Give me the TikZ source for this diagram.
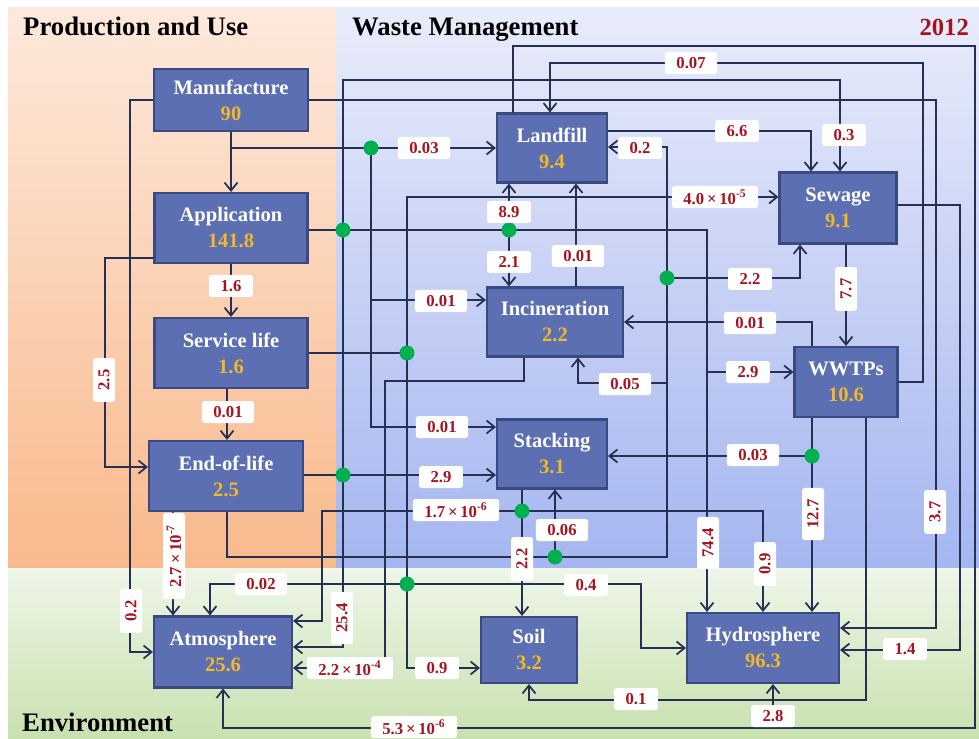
\documentclass[tikz,border=0pt]{standalone}
\usepackage{fontspec}
\setmainfont{Liberation Serif}
\usetikzlibrary{arrows.meta}
\definecolor{boxfill}{RGB}{91,111,178}
\definecolor{boxline}{RGB}{58,74,128}
\definecolor{flowcol}{RGB}{38,48,82}
\definecolor{numcol}{RGB}{242,184,40}
\definecolor{valcol}{RGB}{165,20,30}
\definecolor{dotcol}{RGB}{0,176,80}
\definecolor{prodtop}{RGB}{253,233,220}
\definecolor{prodbot}{RGB}{249,185,140}
\definecolor{wastetop}{RGB}{233,236,250}
\definecolor{wastebot}{RGB}{165,182,240}
\definecolor{envtop}{RGB}{238,246,232}
\definecolor{envbot}{RGB}{200,225,175}

\begin{document}
\begin{tikzpicture}
[x=0.2mm, y=-0.2mm,
block/.style={rectangle, draw=boxline, fill=boxfill, line width=1.2pt,
text=white, align=center, inner sep=1pt,
font=\bfseries\fontsize{11.7}{14.8}\selectfont},
flow/.style={draw=flowcol, line width=1pt,
-{Straight Barb[length=1.6mm,width=2.6mm]}},
wire/.style={draw=flowcol, line width=1pt},
val/.style={fill=white, rounded corners=1.5pt, text=valcol,
font=\bfseries\fontsize{9.5}{10}\selectfont,
inner xsep=2.3mm, inner ysep=0pt, minimum height=4.4mm},
rval/.style={val, rotate=90},
junction/.style={circle, fill=dotcol, inner sep=0pt, minimum size=3mm},
title/.style={font=\bfseries\fontsize{15.2}{18}\selectfont, anchor=base west}]
\useasboundingbox (0,0) rectangle (979,739);
% backgrounds
\shade[top color=prodtop, bottom color=prodbot] (8,8) rectangle (336,568);
\shade[top color=wastetop, bottom color=wastebot] (336,8) rectangle (979,568);
\shade[top color=envtop, bottom color=envbot] (8,568) rectangle (979,739);
\node[title] (tprod) at (17,36) {Production and Use};
\node[title] (twaste) at (346,36) {Waste Management};
\node[title, anchor=base east, text=valcol, font=\bfseries\fontsize{14}{17}\selectfont] (tyear) at (975,36) {2012};
\node[title] (tenv) at (16,731) {Environment};
% production and use
\node[block, minimum width=30.8mm, minimum height=12.4mm] (man) at (231,100) {Manufacture\\\textcolor{numcol}{90}};
\node[block, minimum width=30.6mm, minimum height=14mm] (app) at (231,228) {Application\\\textcolor{numcol}{141.8}};
\node[block, minimum width=30.6mm, minimum height=14mm] (ser) at (231,353) {Service life\\\textcolor{numcol}{1.6}};
\node[block, minimum width=30.8mm, minimum height=14mm] (eol) at (226,476) {End-of-life\\\textcolor{numcol}{2.5}};
% waste management
\node[block, minimum width=22mm, minimum height=13.8mm] (lan) at (552,148) {Landfill\\\textcolor{numcol}{9.4}};
\node[block, minimum width=23.4mm, minimum height=14.2mm] (sew) at (838,208) {Sewage\\\textcolor{numcol}{9.1}};
\node[block, minimum width=27.2mm, minimum height=13.8mm] (inc) at (555,322) {Incineration\\\textcolor{numcol}{2.2}};
\node[block, minimum width=20.6mm, minimum height=14mm] (wwt) at (846,382) {WWTPs\\\textcolor{numcol}{10.6}};
\node[block, minimum width=22mm, minimum height=13.8mm] (sta) at (552,454) {Stacking\\\textcolor{numcol}{3.1}};
% environment
\node[block, minimum width=27.6mm, minimum height=14.2mm] (atm) at (223,652) {Atmosphere\\\textcolor{numcol}{25.6}};
\node[block, minimum width=19.2mm, minimum height=13.2mm] (soi) at (529,650) {Soil\\\textcolor{numcol}{3.2}};
\node[block, minimum width=30.4mm, minimum height=14mm] (hyd) at (763,648) {Hydrosphere\\\textcolor{numcol}{96.3}};
% junctions
\coordinate (jA) at (371,148);
\coordinate (jB) at (343,230);
\coordinate (jC) at (509,230);
\coordinate (jD) at (407,353);
\coordinate (jE) at (343,475);
\coordinate (jF) at (667,278);
\coordinate (jG) at (812,456);
\coordinate (jH) at (522,511);
\coordinate (jI) at (555,557);
\coordinate (jJ) at (407,584);
% manufacture
\draw[flow] (man.south) -- (app.north);
\draw[wire] (man.south |- jA) -- (jA);
\draw[flow] (jA) -- (jA -| lan.west);
\draw[flow] (jA) |- ([yshift=4.4mm]inc.west);
\draw[flow] (jA) |- ([yshift=5.4mm]sta.west);
\draw[flow] (man.west) -- (130,100) |- (atm.west);
\draw[flow] (man.east) -- (936,100) |- ([yshift=4mm]hyd.east);
% application
\draw[wire] (app.east |- jB) -- (jB);
\draw[flow] (jB) -- (343,80) -| ([xshift=0.4mm]sew.north);
\draw[flow] (jB) -- (jC) -| ([xshift=-11.2mm]hyd.north);
\draw[flow] (jC) -- (707,230) |- ([yshift=2mm]wwt.west);
\draw[flow] (jC) -- (jC |- lan.south);
\draw[flow] (jC) -- (jC |- inc.north);
\draw[flow] (jB) -- (jE) |- ([yshift=1mm]atm.east);
\draw[flow] ([yshift=-6mm]app.west) -- (105,258) |- ([yshift=1.8mm]eol.west);
\draw[flow] (app.south) -- (ser.north);
% service life
\draw[flow] ([xshift=-0.8mm]ser.south) -- ([xshift=0.2mm]eol.north);
\draw[wire] (ser.east) -- (jD);
\draw[flow] (jD) |- ([yshift=2.2mm]sew.west);
\draw[wire] (jD) -- (jJ);
\draw[flow] (jJ) -| ([xshift=-2.6mm]atm.north);
\draw[flow] (jJ) -- (641,584) |- (hyd.west);
\draw[flow] (jJ) |- ([yshift=-3.6mm]soi.west);
% end-of-life
\draw[wire] (eol.east |- jE) -- (jE);
\draw[flow] (jE) -- (jE -| sta.west);
\draw[flow] ([xshift=-10.6mm]eol.south) -- ([xshift=-10mm]atm.north);
\draw[wire] ([xshift=0.2mm]eol.south) -- (227,557) -- (jI);
\draw[flow] (jI) -- (jI |- sta.south);
\draw[wire] (jI) -- (667,557) -- (jF);
\draw[flow] (jF) |- ([yshift=0.2mm]lan.east);
\draw[flow] (jF) -| ([xshift=-7.6mm]sew.south);
\draw[flow] (jF) -- (667,383) -| ([xshift=4.6mm]inc.south);
% landfill, incineration, stacking
\draw[flow] ([xshift=4.2mm]inc.north) -- ([xshift=4.8mm]lan.south);
\draw[flow] ([xshift=-6.2mm]inc.south) -- (524,381) -- (385,381) |- ([yshift=-3.2mm]atm.east);
\draw[wire] ([xshift=-6mm]sta.south) -- (jH);
\draw[flow] (jH) -- (322,511) |- ([yshift=6.2mm]atm.east);
\draw[flow] (jH) -| (hyd.north);
\draw[flow] (jH) -- (jH |- soi.north);
\draw[flow] ([yshift=3.4mm]lan.east) -| ([xshift=-5.4mm]sew.north);
\draw[flow] ([xshift=-7.8mm]lan.north) -- (513,46) -- (975,46) -- (975,728) -| (atm.south);
\draw[flow] ([xshift=-7.8mm]lan.north) -- (513,46) -- (975,46) -- (975,728) -| ([xshift=2mm]hyd.south);
% sewage, wwtps
\draw[flow] ([yshift=0.6mm]sew.east) -- (960,205) |- ([yshift=-0.4mm]hyd.east);
\draw[flow] ([xshift=1.6mm]sew.south) -- (wwt.north);
\draw[flow] (wwt.east) -- (923,382) -- (923,63) -| ([xshift=-0.4mm]lan.north);
\draw[flow] ([xshift=-6.8mm]wwt.north) |- (inc.east);
\draw[wire] ([xshift=-6.8mm]wwt.south) -- (jG);
\draw[flow] (jG) -- (jG -| sta.east);
\draw[flow] (jG) -- ([xshift=9.8mm]hyd.north);
\draw[flow] ([xshift=4mm]wwt.south) -- (866,700) -| (soi.south);
% green dots
\foreach \j in {jA,jB,jC,jD,jE,jF,jG,jH,jI,jJ}
  \node[junction] (dot\j) at (\j) {};
% values
\node[val] (v1) at (424,148) {0.03};
\node[val] (v2) at (691,63) {0.07};
\node[val] (v3) at (737,131) {6.6};
\node[val] (v4) at (844,135) {0.3};
\node[val] (v5) at (640,148) {0.2};
\node[val] (v6) at (509,212) {8.9};
\node[val] (v7) at (715,197) {4.0\,×\,10\textsuperscript{-5}};
\node[val] (v8) at (509,262) {2.1};
\node[val] (v9) at (578,256) {0.01};
\node[val] (v10) at (750,279) {2.2};
\node[val] (v12) at (750,323) {0.01};
\node[val] (v13) at (748,372) {2.9};
\node[val] (v14) at (625,384) {0.05};
\node[val] (v15) at (753,455) {0.03};
\node[val] (v16) at (441,301) {0.01};
\node[val] (v17) at (442,427) {0.01};
\node[val] (v18) at (441,477) {2.9};
\node[val] (v19) at (456,510) {1.7\,×\,10\textsuperscript{-6}};
\node[val] (v20) at (562,530) {0.06};
\node[val] (v22) at (586,585) {0.4};
\node[val] (v27) at (905,649) {1.4};
\node[val] (v28) at (636,699) {0.1};
\node[val] (v29) at (773,716) {2.8};
\node[val] (v30) at (414,727) {5.3\,×\,10\textsuperscript{-6}};
\node[val] (v31) at (437,668) {0.9};
\node[val] (v32) at (350,668) {2.2\,×\,10\textsuperscript{-4}};
\node[val] (v34) at (261,584) {0.02};
\node[val] (v38) at (231,286) {1.6};
\node[val] (v39) at (228,412) {0.01};
\node[rval] (v11) at (846,289) {7.7};
\node[rval] (v21) at (522,559) {2.2};
\node[rval] (v23) at (708,543) {74.4};
\node[rval] (v24) at (765,564) {0.9};
\node[rval] (v25) at (813,514) {12.7};
\node[rval] (v26) at (935,512) {3.7};
\node[rval] (v33) at (342,618) {25.4};
\node[rval] (v35) at (174,556) {2.7\,×\,10\textsuperscript{-7}};
\node[rval] (v36) at (131,611) {0.2};
\node[rval] (v37) at (104,380) {2.5};
\end{tikzpicture}
\end{document}
